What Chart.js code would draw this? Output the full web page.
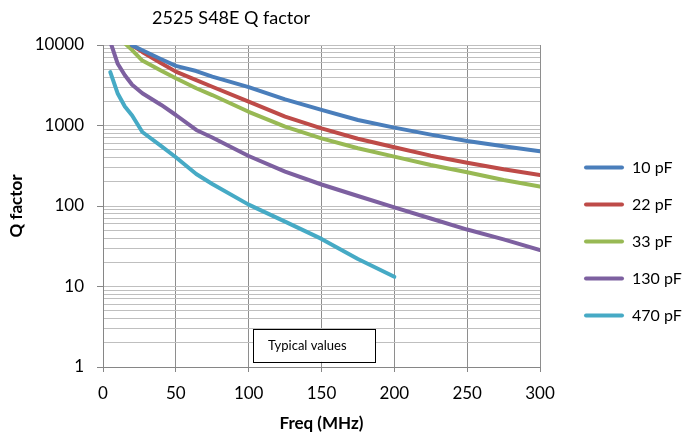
<!DOCTYPE html>
<html>
<head>
<meta charset="utf-8">
<script src="https://cdn.jsdelivr.net/npm/chart.js@4.4.1/dist/chart.umd.min.js"></script>
<style>
html, body { margin: 0; padding: 0; background: #ffffff; }
#wrap { width: 685px; height: 438px; position: relative; }
</style>
</head>
<body>
<div id="wrap"><canvas id="chart" width="685" height="438"></canvas></div>
<script>
// data
var freqs = [5, 10, 15, 20, 27, 40, 50, 64, 75, 100, 125, 150, 175, 200, 225, 250, 275, 300];
var q10pF  = [null, null, 14000, 9900, 8600, 6640, 5500, 4750, 4040, 3000, 2110, 1560, 1170, 940, 770, 641, 551, 480];
var q22pF  = [null, null, 14000, 9900, 8200, 5920, 4670, 3670, 3030, 1980, 1290, 920, 685, 536, 422, 345, 286, 243];
var q33pF  = [null, null, 10500, 8640, 6400, 4800, 3860, 2900, 2390, 1480, 966, 693, 521, 410, 323, 262, 210, 174];
var q130pF = [11000, 5900, 4200, 3200, 2510, 1800, 1350, 880, 710, 418, 267, 185, 133, 96, 70, 51, 38.5, 28.4];
var q470pF = [4600, 2520, 1720, 1330, 830, 556, 403, 250, 188, 104, 64, 39, 22, 13.2, null, null, null, null];

var seriesNames  = ["10 pF", "22 pF", "33 pF", "130 pF", "470 pF"];
var seriesColors = ["#4a7ebb", "#be4b48", "#98b954", "#7d60a0", "#46aac5"];

// axis ticks
var xTicks = [0, 50, 100, 150, 200, 250, 300];
var yDecades = [1, 10, 100, 1000, 10000];
var yTickValues = [1,2,3,4,5,6,7,8,9,10,20,30,40,50,60,70,80,90,100,200,300,400,500,600,700,800,900,
                   1000,2000,3000,4000,5000,6000,7000,8000,9000,10000];

var FONT = "Lato";
var LEG_FONT = 16;
var LEG_PAD = 21;
var LEG_BOX = 40;

function pts(vals) {
  return freqs.map(function (f, i) { return { x: f, y: vals[i] }; });
}

// chart title and the "Typical values" box
var extras = {
  id: "extras",
  afterDraw: function (chart) {
    var c = chart.ctx;
    var xs = chart.scales.x, ys = chart.scales.y;
    c.save();
    c.fillStyle = "#000";
    c.font = "18px " + FONT;
    c.textBaseline = "middle";
    c.textAlign = "left";
    c.fillText("2525 S48E Q factor", 152, 18);
    c.restore();

    var bx0 = xs.getPixelForValue(103), bx1 = xs.getPixelForValue(187);
    var by0 = ys.getPixelForValue(2.95), by1 = ys.getPixelForValue(1.16);
    c.save();
    c.fillStyle = "#fff";
    c.fillRect(bx0, by0, bx1 - bx0, by1 - by0);
    c.strokeStyle = "#000";
    c.lineWidth = 1;
    c.strokeRect(Math.round(bx0) + 0.5, Math.round(by0) + 0.5, Math.round(bx1 - bx0), Math.round(by1 - by0));
    c.fillStyle = "#000";
    c.font = "13px " + FONT;
    c.textBaseline = "middle";
    c.fillText("Typical values", bx0 + 15, (by0 + by1) / 2);
    c.restore();
  }
};

function makeChart() {
  var datasets = [q10pF, q22pF, q33pF, q130pF, q470pF].map(function (vals, i) {
    return {
      label: seriesNames[i],
      data: pts(vals),
      borderColor: seriesColors[i],
      backgroundColor: seriesColors[i],
      borderWidth: 4,
      pointRadius: 0,
      tension: 0,
      fill: false,
      borderJoinStyle: "round",
      borderCapStyle: "round",
      clip: 0
    };
  });

  // legend box width as Chart.js computes it (it adds 10px at the end),
  // so the legend starts at x=563 and the plot ends at x=540
  var mctx = document.createElement("canvas").getContext("2d");
  mctx.font = LEG_FONT + "px " + FONT;
  var legendW = LEG_PAD + LEG_BOX + LEG_FONT / 2 + mctx.measureText("470 pF").width + 10;
  var padRight = 685 - 563 - legendW;

  new Chart(document.getElementById("chart"), {
    type: "line",
    data: { datasets: datasets },
    options: {
      responsive: false,
      animation: false,
      devicePixelRatio: 1,
      layout: { padding: { top: 45, left: 0, bottom: 0, right: padRight } },
      plugins: {
        title: { display: false },
        tooltip: { enabled: false },
        legend: {
          display: true,
          position: "right",
          align: "center",
          maxWidth: 300,
          labels: {
            boxWidth: LEG_BOX,
            boxHeight: 4,
            padding: LEG_PAD,
            color: "#000",
            font: { family: FONT, size: LEG_FONT },
            useBorderRadius: true,
            borderRadius: 2,
            generateLabels: function (ch) {
              var items = Chart.defaults.plugins.legend.labels.generateLabels(ch);
              items.forEach(function (it) { it.lineWidth = 0; });
              return items;
            }
          }
        }
      },
      scales: {
        x: {
          type: "linear",
          min: 0,
          max: 300,
          afterBuildTicks: function (s) {
            s.ticks = xTicks.map(function (v) { return { value: v }; });
          },
          afterFit: function (s) { s.height = 71; },
          grid: { color: "#8e8e8e", tickColor: "#868686", tickLength: 5, lineWidth: 1 },
          border: { color: "#868686" },
          ticks: { color: "#000", font: { family: FONT, size: 17 }, padding: 11, maxRotation: 0 },
          title: {
            display: true,
            text: "Freq (MHz)",
            color: "#000",
            font: { family: FONT, size: 17, weight: "bold" },
            padding: { top: 0, bottom: 4 }
          }
        },
        y: {
          type: "logarithmic",
          min: 1,
          max: 10000,
          afterBuildTicks: function (s) {
            s.ticks = yTickValues.map(function (v) {
              return { value: v, major: yDecades.indexOf(v) >= 0 };
            });
          },
          afterFit: function (s) { s.width = 103; },
          grid: {
            color: "#bfbfbf",
            lineWidth: 1,
            tickLength: 6,
            tickColor: function (c) {
              return c.tick && yDecades.indexOf(c.tick.value) >= 0 ? "#868686" : "rgba(0,0,0,0)";
            }
          },
          border: { color: "#868686" },
          ticks: {
            autoSkip: false,
            color: "#000",
            font: { family: FONT, size: 17 },
            padding: 13,
            callback: function (v) { return yDecades.indexOf(v) >= 0 ? String(v) : ""; }
          },
          title: {
            display: true,
            text: "Q factor",
            color: "#000",
            font: { family: FONT, size: 17, weight: "bold" },
            padding: { top: 6, bottom: 0 }
          }
        },
        gap: {
          type: "linear",
          position: "right",
          display: true,
          grid: { display: false },
          border: { display: false },
          ticks: { display: false },
          afterFit: function (s) { s.width = 23; }
        }
      }
    },
    plugins: [extras]
  });
}

// wait for the installed fonts so text is measured with the right face
Promise.all([
  document.fonts.load("16px Lato"),
  document.fonts.load("bold 17px Lato")
]).then(makeChart, makeChart);
</script>
</body>
</html>
